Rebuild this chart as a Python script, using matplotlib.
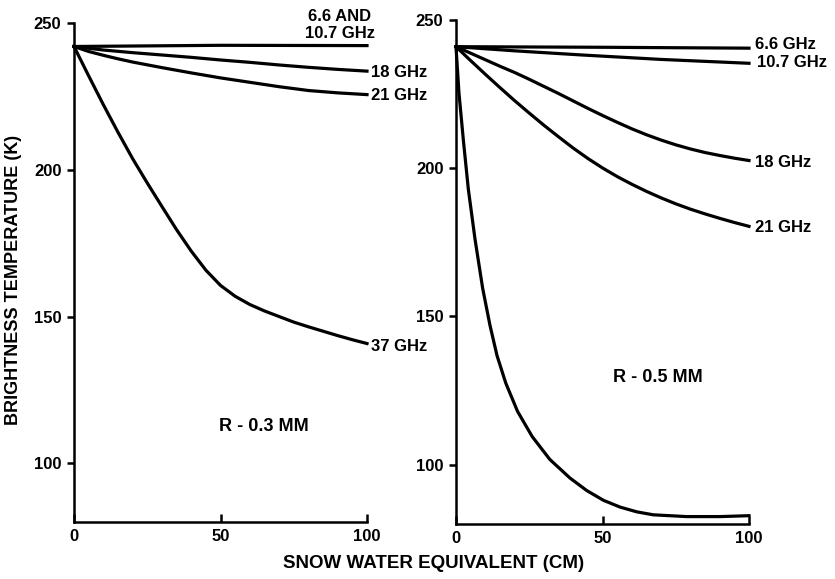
import matplotlib
matplotlib.use("Agg")
import matplotlib.pyplot as plt
import numpy as np

plt.rcParams['font.family'] = ['Liberation Sans Narrow', 'Liberation Sans', 'DejaVu Sans']
plt.rcParams['font.weight'] = 'bold'

# ---- data ----
# left panel, R = 0.3 mm
l_x66 = [0, 50, 100]
l_y66 = [242, 242.4, 242.3]
l_x18 = [0, 10, 20, 30, 40, 50, 60, 70, 80, 90, 100]
l_y18 = [242, 240.8, 239.9, 239.1, 238.3, 237.4, 236.6, 235.7, 234.9, 234.2, 233.6]
l_x21 = [0, 5, 10, 15, 20, 30, 40, 50, 60, 70, 80, 90, 100]
l_y21 = [242, 240.3, 239, 237.8, 236.7, 234.8, 233, 231.3, 229.8, 228.3, 227, 226.2, 225.6]
l_x37 = [0, 5, 10, 15, 20, 25, 30, 35, 40, 45, 50, 55, 60, 65, 70, 75, 80, 85, 90, 95, 100]
l_y37 = [242, 232, 222.2, 212.8, 203.8, 195.5, 187.5, 179.6, 172.3, 165.8, 160.6, 156.9,
         154.1, 151.9, 150, 148.1, 146.5, 145, 143.5, 142.1, 140.8]

# right panel, R = 0.5 mm
r_x66 = [0, 50, 100]
r_y66 = [241, 240.8, 240.5]
r_x107 = [0, 20, 43, 70, 100]
r_y107 = [241, 239.6, 238.2, 236.7, 235.4]
r_x18 = [0, 5, 10, 15, 20, 25, 30, 35, 40, 45, 50, 55, 60, 65, 70, 75, 80, 85, 90, 95, 100]
r_y18 = [241, 238.8, 236.6, 234.4, 232.3, 230, 227.6, 225.2, 222.7, 220.2, 217.8, 215.5,
         213.3, 211.3, 209.5, 207.9, 206.5, 205.3, 204.3, 203.4, 202.6]
r_x21 = [0, 5, 10, 15, 20, 25, 30, 35, 40, 45, 50, 55, 60, 65, 70, 75, 80, 85, 90, 95, 100]
r_y21 = [241, 236.3, 231.7, 227.2, 222.8, 218.6, 214.5, 210.6, 206.8, 203.3, 200.1, 197.2,
         194.6, 192.2, 190, 188, 186.2, 184.6, 183.1, 181.7, 180.4]
r_x37 = [0, 1, 2.5, 4.2, 6.5, 9.1, 11.6, 14, 17, 21, 26, 32, 38.9, 44.6,
         50.3, 56, 61.7, 67.3, 78.7, 90, 100]
r_y37 = [241, 225.5, 209.6, 193, 176, 159.5, 147, 136.8, 127.5, 118, 109.5, 101.8,
         95.5, 91.3, 88, 85.7, 84.1, 83.1, 82.5, 82.5, 82.8]

xticks = [0, 50, 100]
yticks = [100, 150, 200, 250]

fig = plt.figure(figsize=(8.35, 5.79), dpi=100)
axL = fig.add_axes([74/835, 1-522/579, 293/835, (522-23)/579])
axR = fig.add_axes([456/835, 1-524/579, 293/835, (524-20)/579])

lw = 2.3
for ax in (axL, axR):
    ax.set_xlim(0, 100)
    ax.set_ylim(80, 250)
    ax.set_xticks(xticks)
    ax.set_yticks(yticks)
    for s in ('top', 'right'):
        ax.spines[s].set_visible(False)
    for s in ('left', 'bottom'):
        ax.spines[s].set_linewidth(1.8)
    ax.tick_params(axis='x', direction='in', length=6, width=1.8, pad=5, labelsize=12)
    ax.tick_params(axis='y', direction='out', length=5, width=1.8, pad=4, labelsize=12)
    for lab in ax.get_xticklabels() + ax.get_yticklabels():
        lab.set_fontweight('bold')

axL.plot(l_x66, l_y66, color='k', lw=lw, clip_on=False)
axL.plot(l_x18, l_y18, color='k', lw=lw, clip_on=False)
axL.plot(l_x21, l_y21, color='k', lw=lw, clip_on=False)
axL.plot(l_x37, l_y37, color='k', lw=lw, clip_on=False)

axR.plot(r_x66, r_y66, color='k', lw=lw, clip_on=False)
axR.plot(r_x107, r_y107, color='k', lw=lw, clip_on=False)
axR.plot(r_x18, r_y18, color='k', lw=lw, clip_on=False)
axR.plot(r_x21, r_y21, color='k', lw=lw, clip_on=False)
axR.plot(r_x37, r_y37, color='k', lw=lw, clip_on=False)

fs = 12
axL.text(90.8, 249.3, "6.6 AND\n10.7 GHz", ha='center', va='center', fontsize=fs,
         fontweight='bold', linespacing=1.1)
axL.text(101.4, 233.2, "18 GHz", ha='left', va='center', fontsize=fs, fontweight='bold')
axL.text(101.4, 225.3, "21 GHz", ha='left', va='center', fontsize=fs, fontweight='bold')
axL.text(101.4, 139.7, "37 GHz", ha='left', va='center', fontsize=fs, fontweight='bold')
axL.text(64.8, 112.7, "R - 0.3 MM", ha='center', va='center', fontsize=13, fontweight='bold')

axR.text(102, 241.6, "6.6 GHz", ha='left', va='center', fontsize=fs, fontweight='bold')
axR.text(102.7, 235.5, "10.7 GHz", ha='left', va='center', fontsize=fs, fontweight='bold')
axR.text(102, 201.9, "18 GHz", ha='left', va='center', fontsize=fs, fontweight='bold')
axR.text(102, 180, "21 GHz", ha='left', va='center', fontsize=fs, fontweight='bold')
axR.text(69, 129.5, "R - 0.5 MM", ha='center', va='center', fontsize=13, fontweight='bold')

fig.text(434/835, 1-563/579, "SNOW WATER EQUIVALENT (CM)", ha='center', va='center',
         fontsize=13.5, fontweight='bold')
fig.text(14/835, 1-280/579, "BRIGHTNESS TEMPERATURE (K)", ha='center', va='center',
         rotation=90, fontsize=13, fontweight='bold')

fig.savefig("out.png", dpi=100, facecolor='white')
